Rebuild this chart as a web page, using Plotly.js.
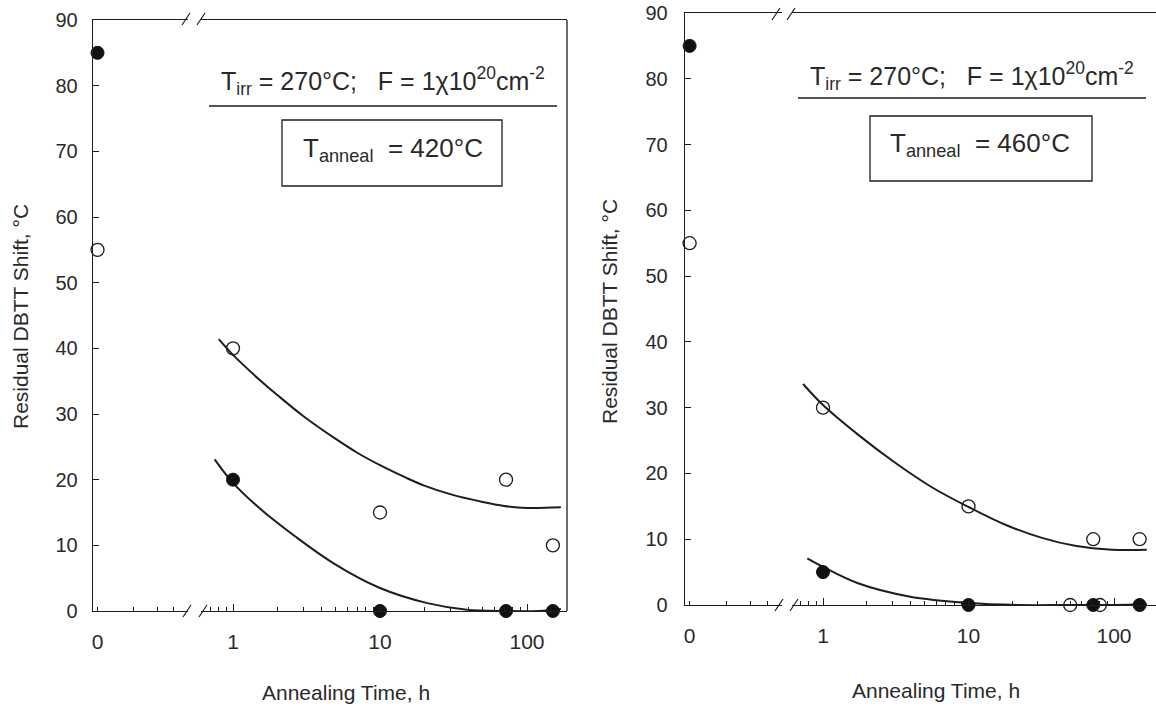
<!DOCTYPE html>
<html>
<head>
<meta charset="utf-8">
<script src="https://cdn.plot.ly/plotly-3.0.1.min.js"></script>
<style>html,body{margin:0;padding:0;background:#fff;}#chart{width:1156px;height:706px;}</style>
</head>
<body>
<div id="chart"></div>
<script>
// ---------------- DATA ----------------
// Left panel: T_anneal = 420 °C
const leftZeroTime = [0];
const leftZeroOpen = [55];
const leftZeroFilled = [85];
const leftTime = [1, 10, 72, 150];
const leftOpen = [40, 15, 20, 10];
const leftFilled = [20, 0, 0, 0];
const leftFitOpenTime = [0.8, 1, 1.5, 2, 3, 5, 7, 10, 15, 20, 30, 50, 70, 100, 170];
const leftFitOpen = [41.4, 39, 35.3, 32.9, 29.7, 26.2, 24.1, 22.2, 20.3, 19.1, 17.8, 16.6, 16, 15.7, 15.8];
const leftFitFilledTime = [0.75, 1, 1.47, 2.67, 4.8, 10, 21, 39, 70, 120, 170];
const leftFitFilled = [23.1, 19.5, 15.9, 11.3, 7.3, 3.5, 1.2, 0.2, 0, 0, 0.3];

// Right panel: T_anneal = 460 °C
const rightZeroTime = [0];
const rightZeroOpen = [55];
const rightZeroFilled = [85];
const rightOpenTime = [1, 10, 72, 150, 50, 80];
const rightOpen = [30, 15, 10, 10, 0, 0];
const rightFilledTime = [1, 10, 72, 150];
const rightFilled = [5, 0, 0, 0];
const rightFitOpenTime = [0.73, 1, 1.74, 3.1, 5.6, 10, 17.9, 32, 54, 97, 168];
const rightFitOpen = [33.6, 30.4, 25.9, 21.7, 17.9, 14.9, 12.2, 10.2, 9.0, 8.4, 8.4];
const rightFitFilledTime = [0.78, 1, 1.74, 3.9, 10, 22, 50, 100, 168];
const rightFitFilled = [7.1, 5.8, 3.3, 1.3, 0.3, 0, 0, 0, 0.1];

// Tick labels
const yTicks = [0, 10, 20, 30, 40, 50, 60, 70, 80, 90];
const logMajorTicks = [1, 10, 100];
const logMajorText = ['1', '10', '100'];
const logMinorTicks = [0.7, 0.8, 0.9, 2, 3, 4, 5, 6, 7, 8, 9, 20, 30, 40, 50, 60, 70, 80, 90, 200];
const zeroSegTicks = [0];
const zeroSegText = ['0'];
const zeroSegMinor = [0.4, 0.66, 0.84];

const yTitle = 'Residual DBTT Shift, °C';
const xTitle = 'Annealing Time, h';
const condText = 'T<sub>irr</sub> = 270°C;\u00a0\u00a0\u00a0F = 1χ10<sup>20</sup>cm<sup>-2</sup>';
const annealLeft = 'T<sub>anneal</sub>\u00a0\u00a0=\u00a0420°C';
const annealRight = 'T<sub>anneal</sub>\u00a0\u00a0=\u00a0460°C';

// ---------------- LAYOUT HELPERS ----------------
const W = 1156, H = 706;
const fx = p => p / W;
const fy = p => 1 - p / H;
const INK = '#1e1e1e';
const TXT = '#2a2a2a';
const FONT = 'Liberation Sans, Arial, Helvetica, sans-serif';

function openTrace(x, y, xa, ya) {
  return {x, y, xaxis: xa, yaxis: ya, type: 'scatter', mode: 'markers', cliponaxis: false,
    marker: {symbol: 'circle', size: 13, color: 'rgba(255,255,255,0)', line: {color: INK, width: 1.3}}, hoverinfo: 'skip'};
}
function filledTrace(x, y, xa, ya) {
  return {x, y, xaxis: xa, yaxis: ya, type: 'scatter', mode: 'markers', cliponaxis: false,
    marker: {symbol: 'circle', size: 13, color: '#111', line: {color: '#111', width: 1}}, hoverinfo: 'skip'};
}
function fitTrace(x, y, xa, ya) {
  return {x, y, xaxis: xa, yaxis: ya, type: 'scatter', mode: 'lines', cliponaxis: false,
    line: {color: INK, width: 2, shape: 'spline', smoothing: 1}, hoverinfo: 'skip'};
}

const data = [
  fitTrace(leftFitOpenTime, leftFitOpen, 'x2', 'y'),
  fitTrace(leftFitFilledTime, leftFitFilled, 'x2', 'y'),
  openTrace(leftZeroTime, leftZeroOpen, 'x', 'y'),
  filledTrace(leftZeroTime, leftZeroFilled, 'x', 'y'),
  openTrace(leftTime, leftOpen, 'x2', 'y'),
  filledTrace(leftTime, leftFilled, 'x2', 'y'),

  fitTrace(rightFitOpenTime, rightFitOpen, 'x4', 'y2'),
  fitTrace(rightFitFilledTime, rightFitFilled, 'x4', 'y2'),
  openTrace(rightZeroTime, rightZeroOpen, 'x3', 'y2'),
  filledTrace(rightZeroTime, rightZeroFilled, 'x3', 'y2'),
  openTrace(rightOpenTime, rightOpen, 'x4', 'y2'),
  filledTrace(rightFilledTime, rightFilled, 'x4', 'y2')
];

const baseX = {
  showline: true, mirror: true, linecolor: INK, linewidth: 1.3, showgrid: false, zeroline: false,
  ticks: 'inside', tickcolor: INK, tickwidth: 1, tickfont: {size: 21, color: TXT, family: FONT},
  ticklabelstandoff: 11, fixedrange: true
};
function zeroAxis(domain, anchor) {
  return Object.assign({}, baseX, {domain, anchor, range: [-0.05, 1], tickmode: 'array',
    tickvals: zeroSegTicks, ticktext: zeroSegText, ticklen: 4,
    minor: {tickmode: 'array', tickvals: zeroSegMinor, ticks: 'inside', ticklen: 4, tickcolor: INK, tickwidth: 1, showgrid: false}});
}
function logAxis(domain, anchor, range) {
  return Object.assign({}, baseX, {domain, anchor, type: 'log', range, tickmode: 'array',
    tickvals: logMajorTicks, ticktext: logMajorText, ticklen: 7,
    minor: {tickmode: 'array', tickvals: logMinorTicks, ticks: 'inside', ticklen: 4, tickcolor: INK, tickwidth: 1, showgrid: false}});
}
function yAxis(domain, anchor, standoff) {
  return {domain, anchor, range: [0, 90], tickmode: 'array', tickvals: yTicks,
    showline: true, linecolor: INK, linewidth: 1.3, showgrid: false, zeroline: false,
    ticks: 'inside', ticklen: 6, tickcolor: INK, tickwidth: 1,
    tickfont: {size: 20, color: TXT, family: FONT}, ticklabelstandoff: standoff, fixedrange: true};
}

// break marks "//"
function slash(cx, cy) {
  return {type: 'line', xref: 'paper', yref: 'paper', x0: fx(cx - 4), y0: fy(cy + 6), x1: fx(cx + 4), y1: fy(cy - 6),
    line: {color: INK, width: 1.2}};
}
function hline(x0, x1, y) {
  return {type: 'line', xref: 'paper', yref: 'paper', x0: fx(x0), x1: fx(x1), y0: fy(y), y1: fy(y), line: {color: INK, width: 1.3}};
}
function rect(x0, y0, x1, y1) {
  return {type: 'rect', xref: 'paper', yref: 'paper', x0: fx(x0), x1: fx(x1), y0: fy(y1), y1: fy(y0), line: {color: INK, width: 1.3}, fillcolor: 'rgba(0,0,0,0)'};
}

const shapes = [
  slash(186, 19), slash(201, 19), slash(187, 611), slash(203, 611),
  slash(776, 14), slash(791, 14), slash(779, 605), slash(794, 605),
  {type: 'line', xref: 'paper', yref: 'paper', x0: fx(567), x1: fx(567), y0: fy(611), y1: fy(20), line: {color: INK, width: 1.3}},
  hline(209, 557, 106), rect(282, 120, 502, 186),
  hline(798, 1146, 98), rect(870, 116, 1092, 181)
];

function ann(text, x, y, size, extra) {
  return Object.assign({text, xref: 'paper', yref: 'paper', x: fx(x), y: fy(y), xanchor: 'center', yanchor: 'middle',
    showarrow: false, font: {size, color: TXT, family: FONT}}, extra || {});
}

const annotations = [
  ann(yTitle, 20, 317, 21, {textangle: -90}),
  ann(yTitle, 609, 312, 21, {textangle: -90}),
  ann(xTitle, 346, 692, 21),
  ann(xTitle, 936, 690, 21),
  ann(condText, 383, 81, 25),
  ann(annealLeft, 393, 150, 26),
  ann(condText, 972, 76, 25),
  ann(annealRight, 980, 144, 26)
];

const layout = {
  width: W, height: H, margin: {l: 0, r: 0, t: 0, b: 0},
  paper_bgcolor: '#fff', plot_bgcolor: 'rgba(0,0,0,0)', showlegend: false,
  font: {family: FONT, color: TXT},
  xaxis: zeroAxis([fx(93), fx(188)], 'y'),
  xaxis2: logAxis([fx(201), fx(567)], 'y', [-0.2177, 2.272]),
  yaxis: yAxis([fy(611), fy(20)], 'x', 10),
  xaxis3: zeroAxis([fx(685), fx(782)], 'y2'),
  xaxis4: logAxis([fx(792), 1], 'y2', [-0.2131, 2.2887]),
  yaxis2: yAxis([fy(605), fy(13)], 'x3', 12),
  shapes, annotations
};

Plotly.newPlot('chart', data, layout, {displayModeBar: false, staticPlot: true});
</script>
</body>
</html>
